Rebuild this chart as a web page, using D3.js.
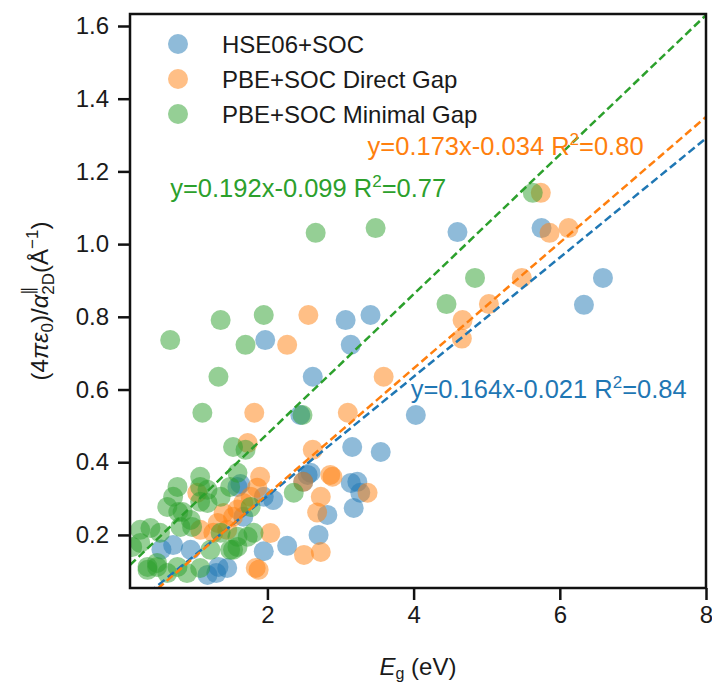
<!DOCTYPE html>
<html>
<head>
<meta charset="utf-8">
<script src="https://cdn.jsdelivr.net/npm/d3@7"></script>
<style>
  html, body { margin: 0; padding: 0; background: #fff; }
  svg { display: block; font-family: "Liberation Sans", Arial, Helvetica, sans-serif; }
</style>
</head>
<body>
<svg id="chart" width="712" height="685"></svg>
<script>
// ---------------- data ----------------
const seriesNames = ["HSE06+SOC", "PBE+SOC Direct Gap", "PBE+SOC Minimal Gap"];
const seriesColors = ["#1f77b4", "#ff7f0e", "#2ca02c"];

const hsePoints = [
  [4.60,1.033],[5.75,1.044],[6.59,0.907],[6.33,0.833],[3.41,0.805],[3.07,0.791],
  [1.97,0.736],[3.14,0.723],[2.62,0.635],[4.03,0.530],[2.45,0.530],[3.16,0.442],
  [3.55,0.428],[2.55,0.365],[2.59,0.371],[3.23,0.346],[3.27,0.316],[3.18,0.274],
  [2.82,0.255],[2.70,0.200],[2.27,0.170],[1.95,0.155],[1.45,0.109],[1.18,0.090],
  [1.33,0.112],[0.71,0.172],[0.95,0.159],[1.59,0.332],[1.95,0.305],[2.08,0.296],
  [1.67,0.250],[1.63,0.340],[2.49,0.346],[3.14,0.343],[1.30,0.095],[0.55,0.160]
];
const pbeDirectPoints = [
  [5.74,1.141],[5.86,1.031],[6.12,1.044],[5.48,0.907],[5.03,0.835],[4.67,0.791],
  [4.66,0.740],[2.56,0.805],[2.27,0.723],[3.59,0.635],[1.82,0.536],[3.10,0.536],
  [2.62,0.434],[1.73,0.453],[2.86,0.365],[2.89,0.360],[1.90,0.360],[2.73,0.305],
  [2.68,0.262],[3.37,0.316],[2.04,0.205],[2.50,0.145],[2.73,0.153],[1.84,0.109],
  [1.88,0.104],[2.49,0.346],[1.04,0.316],[1.26,0.206],[1.45,0.214],[1.32,0.233],
  [1.53,0.250],[1.67,0.288],[1.77,0.305],[1.08,0.214],[1.59,0.270],[1.40,0.260],
  [1.86,0.330]
];
const pbeMinimalPoints = [
  [2.66,1.031],[3.48,1.044],[5.63,1.141],[4.84,0.907],[4.45,0.835],[1.36,0.791],
  [1.95,0.805],[0.67,0.736],[1.70,0.723],[1.33,0.635],[1.11,0.536],[2.48,0.530],
  [1.53,0.442],[1.70,0.434],[1.08,0.360],[0.77,0.332],[2.36,0.316],[0.71,0.305],
  [0.78,0.263],[1.08,0.291],[1.18,0.324],[1.36,0.305],[1.59,0.371],[1.49,0.332],
  [0.40,0.219],[0.26,0.178],[0.53,0.206],[0.95,0.241],[0.81,0.222],[0.36,0.112],
  [0.49,0.112],[0.77,0.112],[0.90,0.095],[0.63,0.095],[1.08,0.109],[1.22,0.159],
  [1.59,0.167],[1.73,0.195],[1.77,0.277],[1.36,0.206],[1.49,0.159],[0.15,0.167],
  [0.26,0.214],[0.36,0.104],[0.49,0.123],[0.63,0.277],[0.84,0.263],[0.97,0.222],
  [1.18,0.288],[1.08,0.332],[1.81,0.206],[1.59,0.195],[1.53,0.159]
];

// fitted lines as drawn (slope, intercept)
const fitSlopes = [0.164, 0.173, 0.192];
const fitIntercepts = [-0.021, -0.034, 0.094];
// equation labels and their anchor positions (data units)
const fitLabels = [
  ["y=0.164x-0.021 R", "2", "=0.84"],
  ["y=0.173x-0.034 R", "2", "=0.80"],
  ["y=0.192x-0.099 R", "2", "=0.77"]
];
const fitLabelX = [3.96, 3.37, 0.67];
const fitLabelY = [0.578, 1.245, 1.13];

const xTicks = [2, 4, 6, 8];
const yTicks = [0.2, 0.4, 0.6, 0.8, 1.0, 1.2, 1.4, 1.6];
const xDomain = [0.12, 8.0];
const yDomain = [0.054, 1.633];

// ---------------- layout ----------------
const svg = d3.select("#chart");
const L = 130, R = 706, T = 14, B = 588;
const x = d3.scaleLinear().domain(xDomain).range([L, R]);
const y = d3.scaleLinear().domain(yDomain).range([B, T]);
const FONT = 24;
const EQFONT = 25.5;

svg.append("defs").append("clipPath").attr("id", "clip")
  .append("rect").attr("x", L).attr("y", T).attr("width", R - L).attr("height", B - T);

const plot = svg.append("g").attr("clip-path", "url(#clip)");

const allSeries = [hsePoints, pbeDirectPoints, pbeMinimalPoints];
allSeries.forEach((pts, i) => {
  plot.append("g").selectAll("circle").data(pts).enter().append("circle")
    .attr("cx", d => x(d[0])).attr("cy", d => y(d[1])).attr("r", 10)
    .attr("fill", seriesColors[i]).attr("fill-opacity", 0.5);
});

// regression lines
const lineGen = d3.line().x(d => x(d[0])).y(d => y(d[1]));
fitSlopes.forEach((m, i) => {
  const b = fitIntercepts[i];
  const pts = [[0, b], [8.2, m * 8.2 + b]];
  plot.append("path").attr("d", lineGen(pts))
    .attr("fill", "none").attr("stroke", seriesColors[i])
    .attr("stroke-width", 2.5).attr("stroke-dasharray", "8,4");
});

// equation labels
fitLabels.forEach((lab, i) => {
  const t = svg.append("text").attr("x", x(fitLabelX[i])).attr("y", y(fitLabelY[i]))
    .attr("font-size", EQFONT).attr("fill", seriesColors[i]);
  t.append("tspan").text(lab[0]);
  t.append("tspan").attr("font-size", 17).attr("dy", -10).text(lab[1]);
  t.append("tspan").attr("dy", 10).text(lab[2]);
});

// axes frame
svg.append("rect").attr("x", L).attr("y", T).attr("width", R - L).attr("height", B - T)
  .attr("fill", "none").attr("stroke", "#111").attr("stroke-width", 2.5);

const xAxis = d3.axisBottom(x).tickValues(xTicks).tickFormat(d3.format("d"))
  .tickSize(12).tickPadding(6);
const gx = svg.append("g").attr("transform", `translate(0,${B})`).call(xAxis);
const yAxis = d3.axisLeft(y).tickValues(yTicks).tickFormat(d3.format(".1f"))
  .tickSize(12).tickPadding(9);
const gy = svg.append("g").attr("transform", `translate(${L},0)`).call(yAxis);
[gx, gy].forEach(g => {
  g.select(".domain").remove();
  g.selectAll(".tick line").attr("stroke", "#111").attr("stroke-width", 2.5);
  g.selectAll(".tick text").attr("font-size", FONT).attr("fill", "#1a1a1a")
    .attr("font-family", "Liberation Sans, Arial, sans-serif");
});

// legend
const leg = svg.append("g");
seriesNames.forEach((name, i) => {
  const cy = T + 30 + i * 35;
  leg.append("circle").attr("cx", L + 48).attr("cy", cy).attr("r", 10)
    .attr("fill", seriesColors[i]).attr("fill-opacity", 0.5);
  leg.append("text").attr("x", L + 92).attr("y", cy + 9)
    .attr("font-size", FONT).attr("fill", "#1a1a1a").text(name);
});

// x label: E_g (eV)
const xl = svg.append("text").attr("x", (L + R) / 2).attr("y", 675)
  .attr("text-anchor", "middle").attr("font-size", FONT).attr("fill", "#1a1a1a");
xl.append("tspan").attr("font-style", "italic").text("E");
xl.append("tspan").attr("font-size", 16).attr("dy", 4).text("g");
xl.append("tspan").attr("dy", -4).text(" (eV)");

// y label: (4πε0)/α∥2D (Å−1)
const yl = svg.append("g").attr("transform", `translate(48,${(T + B) / 2}) rotate(-90)`);
const pieces = [
  {t: "(4", it: false, s: FONT, dy: 0},
  {t: "πε", it: true, s: FONT, dy: 0},
  {t: "0", it: false, s: 17, dy: 5},
  {t: ")/", it: false, s: FONT, dy: 0},
  {t: "α", it: true, s: FONT, dy: 0},
  {t: "2D", it: false, s: 17, dy: 6, stackBase: true},
  {t: "∥", it: false, s: 17, dy: -14, stacked: true},
  {t: "(Å", it: false, s: FONT, dy: 0},
  {t: "−1", it: false, s: 17, dy: -10},
  {t: ")", it: false, s: FONT, dy: 0}
];
let cursor = 0, stackStart = 0, stackWidth = 0;
const made = [];
pieces.forEach(p => {
  const el = yl.append("text").attr("font-size", p.s).attr("fill", "#1a1a1a")
    .attr("font-style", p.it ? "italic" : "normal").attr("y", p.dy).text(p.t);
  const w = el.node().getComputedTextLength();
  if (p.stacked) {
    el.attr("x", stackStart);
    cursor = stackStart + Math.max(w, stackWidth);
  } else {
    el.attr("x", cursor);
    if (p.stackBase) { stackStart = cursor; stackWidth = w; }
    cursor += w;
  }
  made.push(el);
});
made.forEach(el => el.attr("x", +el.attr("x") - cursor / 2));
</script>
</body>
</html>
